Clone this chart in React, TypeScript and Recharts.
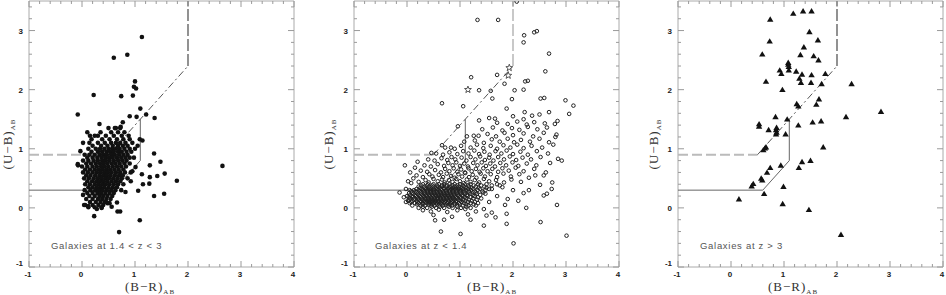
import { ScatterChart, Scatter, XAxis, YAxis } from "recharts";

type Pt = { x: number; y: number };
type Row = [number, number[]];

const xTicks = [-1, -0.8, -0.6, -0.4, -0.2, 0, 0.2, 0.4, 0.6, 0.8, 1, 1.2, 1.4, 1.6, 1.8, 2, 2.2, 2.4, 2.6, 2.8, 3, 3.2, 3.4, 3.6, 3.8, 4];
const yTicks = [-1, -0.8, -0.6, -0.4, -0.2, 0, 0.2, 0.4, 0.6, 0.8, 1, 1.2, 1.4, 1.6, 1.8, 2, 2.2, 2.4, 2.6, 2.8, 3, 3.2, 3.4];

// selection boundaries
const solidCut = [{ x: -1, y: 0.3 }, { x: 0.6, y: 0.3 }, { x: 1.1, y: 0.8 }, { x: 1.1, y: 1.5 }];
const dashHoriz = [{ x: -1, y: 0.9 }, { x: 0.5, y: 0.9 }];
const dashDiag = [{ x: 0.5, y: 0.9 }, { x: 2, y: 2.4 }];
const dashVert = [{ x: 2, y: 2.4 }, { x: 2, y: 3.5 }];

// panel 1: 1.4 < z < 3, dense core by rows [y, xs]
const p1Core: Row[] = [
  [1.35, [0.5, 0.62, 0.72]],
  [1.28, [0.35, 0.55, 0.68, 0.8]],
  [1.22, [0.15, 0.3, 0.45, 0.6, 0.75, 0.88]],
  [1.16, [0.18, 0.38, 0.52, 0.66, 0.78, 0.9]],
  [1.1, [0.14, 0.3, 0.43, 0.55, 0.64, 0.72, 0.82, 0.95]],
  [1.05, [0.2, 0.36, 0.48, 0.58, 0.68, 0.77, 0.86]],
  [1.0, [0.12, 0.26, 0.34, 0.42, 0.5, 0.57, 0.64, 0.71, 0.8, 0.9, 1.0]],
  [0.95, [0.18, 0.3, 0.38, 0.46, 0.53, 0.6, 0.68, 0.75, 0.84, 0.93]],
  [0.9, [0.05, 0.14, 0.24, 0.33, 0.4, 0.47, 0.55, 0.62, 0.7, 0.78, 0.86]],
  [0.85, [0.1, 0.2, 0.29, 0.37, 0.44, 0.51, 0.58, 0.66, 0.74, 0.82, 0.9]],
  [0.8, [0.02, 0.12, 0.22, 0.3, 0.38, 0.45, 0.52, 0.6, 0.68, 0.76, 0.84]],
  [0.75, [0.08, 0.17, 0.26, 0.34, 0.41, 0.48, 0.56, 0.63, 0.71, 0.8, 0.9]],
  [0.7, [0.0, 0.1, 0.2, 0.28, 0.36, 0.43, 0.5, 0.58, 0.66, 0.74, 0.83]],
  [0.65, [0.06, 0.15, 0.24, 0.32, 0.39, 0.46, 0.53, 0.61, 0.69, 0.78]],
  [0.6, [0.02, 0.11, 0.2, 0.28, 0.35, 0.42, 0.49, 0.56, 0.64, 0.72, 0.81, 0.92]],
  [0.55, [0.08, 0.16, 0.25, 0.33, 0.4, 0.47, 0.54, 0.62, 0.7, 0.77]],
  [0.5, [0.04, 0.13, 0.22, 0.3, 0.37, 0.44, 0.51, 0.59, 0.67, 0.75, 0.86]],
  [0.45, [0.1, 0.19, 0.27, 0.34, 0.41, 0.48, 0.56, 0.64, 0.72]],
  [0.4, [0.06, 0.15, 0.24, 0.31, 0.38, 0.45, 0.52, 0.6, 0.68, 0.78]],
  [0.35, [0.12, 0.2, 0.28, 0.35, 0.42, 0.5, 0.58, 0.66]],
  [0.3, [0.05, 0.16, 0.25, 0.32, 0.39, 0.47, 0.55, 0.63, 0.74]],
  [0.25, [0.1, 0.2, 0.29, 0.36, 0.44, 0.52, 0.6]],
  [0.2, [0.14, 0.24, 0.33, 0.4, 0.48, 0.57]],
  [0.15, [0.08, 0.2, 0.3, 0.38, 0.46, 0.54]],
  [0.1, [0.15, 0.26, 0.35, 0.43]],
  [0.05, [0.06, 0.2, 0.31, 0.4]],
  [0.01, [0.12, 0.24, 0.37]],
];
const p1Scatter = [
  [1.13, 2.89], [0.6, 2.54], [0.855, 2.59], [1.0, 2.14], [0.98, 2.05], [1.02, 2.02], [0.96, 1.9], [0.74, 1.89],
  [0.22, 1.91], [-0.08, 1.58], [1.1, 1.68], [1.21, 1.58], [1.03, 1.54], [0.9, 1.55], [1.37, 1.52], [0.33, 1.42],
  [0.64, 1.35], [0.73, 1.37], [0.77, 1.45], [1.09, 1.16], [1.14, 1.14], [-0.03, 0.96], [1.36, 0.92], [1.48, 0.78],
  [1.28, 0.72], [1.01, 0.69], [2.65, 0.71], [1.13, 0.57], [1.28, 0.52], [1.42, 0.54], [1.56, 0.58], [1.79, 0.46],
  [1.15, 0.4], [1.27, 0.41], [1.06, 0.29], [1.36, 0.2], [1.55, 0.24], [0.82, 0.27], [1.09, -0.21], [0.7, -0.41],
  [0.23, -0.14], [0.67, -0.06], [0.72, -0.06], [0.66, 0.09], [0.37, 0.0], [-0.075, 0.72], [-0.08, 0.74],
  [0.02, 0.22], [0.04, 0.05], [0.12, 0.03], [0.48, 0.08], [0.52, 0.08], [0.92, 0.45], [0.95, 0.62], [0.98, 0.85],
  [1.05, 1.05], [0.02, 1.1], [0.1, 1.28], [0.24, 1.22], [0.56, 0.02], [0.28, -0.02],
];

// panel 2: z < 1.4, dense blue cloud by rows [y, xs]
const p2Core: Row[] = [
  [0.0, [0.22, 0.38, 0.55, 0.7, 0.86, 1.02, 1.2]],
  [0.02, [0.3, 0.47, 0.62, 0.79, 0.95, 1.12]],
  [0.04, [0.1, 0.26, 0.34, 0.45, 0.52, 0.6, 0.68, 0.77, 0.85, 0.94, 1.05, 1.16, 1.3]],
  [0.06, [0.19, 0.29, 0.41, 0.48, 0.57, 0.65, 0.73, 0.81, 0.9, 1.0, 1.12, 1.26]],
  [0.08, [0.05, 0.15, 0.22, 0.3, 0.37, 0.43, 0.5, 0.56, 0.63, 0.7, 0.76, 0.83, 0.9, 0.98, 1.08, 1.2, 1.34]],
  [0.1, [0.08, 0.2, 0.27, 0.35, 0.41, 0.47, 0.53, 0.59, 0.65, 0.71, 0.78, 0.84, 0.92, 1.03, 1.15, 1.28]],
  [0.12, [0.02, 0.1, 0.18, 0.25, 0.32, 0.38, 0.44, 0.5, 0.55, 0.61, 0.67, 0.73, 0.79, 0.86, 0.93, 1.0, 1.1, 1.22]],
  [0.14, [0.04, 0.13, 0.22, 0.29, 0.35, 0.42, 0.48, 0.53, 0.58, 0.64, 0.7, 0.77, 0.83, 0.9, 0.97, 1.06, 1.17, 1.32]],
  [0.16, [0.06, 0.14, 0.21, 0.28, 0.34, 0.4, 0.46, 0.52, 0.58, 0.63, 0.69, 0.75, 0.81, 0.87, 0.94, 1.02, 1.12, 1.25, 1.4]],
  [0.18, [0.03, 0.11, 0.19, 0.26, 0.32, 0.39, 0.45, 0.51, 0.57, 0.62, 0.68, 0.74, 0.8, 0.86, 0.92, 1.0, 1.09, 1.2, 1.34]],
  [0.2, [0.0, 0.09, 0.17, 0.24, 0.31, 0.37, 0.43, 0.49, 0.55, 0.6, 0.66, 0.72, 0.78, 0.84, 0.9, 0.97, 1.05, 1.14, 1.27]],
  [0.22, [0.06, 0.15, 0.22, 0.29, 0.36, 0.42, 0.48, 0.54, 0.6, 0.65, 0.71, 0.77, 0.83, 0.89, 0.96, 1.04, 1.13, 1.24, 1.38]],
  [0.24, [0.12, 0.2, 0.27, 0.34, 0.4, 0.46, 0.52, 0.58, 0.64, 0.7, 0.76, 0.82, 0.88, 0.95, 1.02, 1.1, 1.2, 1.32, 1.48]],
  [0.26, [0.1, 0.18, 0.26, 0.33, 0.39, 0.45, 0.51, 0.57, 0.63, 0.69, 0.75, 0.81, 0.87, 0.94, 1.01, 1.09, 1.18, 1.3, 1.44]],
  [0.28, [0.08, 0.16, 0.24, 0.31, 0.38, 0.44, 0.5, 0.56, 0.62, 0.68, 0.74, 0.8, 0.86, 0.93, 1.0, 1.08, 1.17, 1.28, 1.42]],
  [0.3, [0.13, 0.22, 0.3, 0.38, 0.45, 0.52, 0.59, 0.66, 0.73, 0.8, 0.87, 0.94, 1.02, 1.11, 1.21, 1.33, 1.48]],
  [0.32, [0.18, 0.28, 0.36, 0.43, 0.5, 0.57, 0.64, 0.7, 0.77, 0.84, 0.91, 0.98, 1.06, 1.15, 1.25, 1.38, 1.55]],
  [0.34, [0.25, 0.35, 0.45, 0.54, 0.62, 0.7, 0.79, 0.87, 0.95, 1.03, 1.12, 1.22, 1.35, 1.5]],
  [0.36, [0.22, 0.33, 0.42, 0.5, 0.58, 0.66, 0.74, 0.82, 0.9, 0.98, 1.07, 1.17, 1.3, 1.46]],
  [0.38, [0.27, 0.38, 0.48, 0.57, 0.66, 0.76, 0.86, 0.95, 1.05, 1.15, 1.26, 1.4, 1.6]],
  [0.4, [0.3, 0.4, 0.5, 0.6, 0.7, 0.8, 0.9, 1.0, 1.1, 1.2, 1.34, 1.5, 1.7]],
];
const p2Band = [
  [0.22, 0.44], [0.35, 0.47], [0.41, 0.43], [0.5, 0.49], [0.58, 0.45], [0.66, 0.48], [0.71, 0.43], [0.79, 0.47],
  [0.86, 0.44], [0.93, 0.49], [1.0, 0.45], [1.07, 0.42], [1.13, 0.48], [1.2, 0.44], [1.28, 0.47], [1.36, 0.43],
  [1.45, 0.49], [1.55, 0.45], [1.68, 0.47], [1.83, 0.43], [1.97, 0.48], [2.15, 0.44],
  [0.18, 0.55], [0.3, 0.52], [0.42, 0.57], [0.48, 0.53], [0.6, 0.56], [0.68, 0.52], [0.75, 0.58], [0.83, 0.54],
  [0.9, 0.51], [0.97, 0.57], [1.04, 0.53], [1.1, 0.59], [1.17, 0.52], [1.24, 0.56], [1.31, 0.51], [1.39, 0.58],
  [1.47, 0.53], [1.58, 0.57], [1.7, 0.52], [1.82, 0.58], [1.96, 0.53], [2.12, 0.57], [2.3, 0.51],
  [0.26, 0.63], [0.38, 0.61], [0.53, 0.64], [0.64, 0.6], [0.72, 0.66], [0.8, 0.62], [0.88, 0.67], [0.95, 0.61],
  [1.02, 0.65], [1.09, 0.6], [1.16, 0.67], [1.22, 0.62], [1.3, 0.66], [1.37, 0.61], [1.44, 0.67], [1.52, 0.62],
  [1.61, 0.66], [1.72, 0.61], [1.8, 0.67], [1.92, 0.63], [2.05, 0.68], [2.2, 0.62], [2.4, 0.66], [2.62, 0.6],
  [0.33, 0.72], [0.45, 0.7], [0.58, 0.74], [0.7, 0.71], [0.78, 0.76], [0.86, 0.72], [0.93, 0.77], [1.0, 0.71],
  [1.08, 0.75], [1.15, 0.7], [1.25, 0.76], [1.33, 0.72], [1.41, 0.77], [1.49, 0.71], [1.57, 0.75], [1.66, 0.7],
  [1.76, 0.76], [1.87, 0.72], [1.99, 0.77], [2.1, 0.71], [2.26, 0.75], [2.44, 0.72], [2.7, 0.76],
  [0.4, 0.82], [0.52, 0.8], [0.65, 0.84], [0.76, 0.81], [0.84, 0.86], [0.91, 0.82], [1.03, 0.85], [1.12, 0.8],
  [1.2, 0.86], [1.29, 0.82], [1.38, 0.87], [1.47, 0.81], [1.55, 0.85], [1.63, 0.8], [1.72, 0.86], [1.83, 0.82],
  [1.94, 0.87], [2.06, 0.81], [2.18, 0.85], [2.34, 0.82], [2.52, 0.86], [2.85, 0.83],
  [0.55, 0.92], [0.68, 0.9], [0.8, 0.94], [0.95, 0.91], [1.06, 0.96], [1.16, 0.92], [1.27, 0.97], [1.36, 0.91],
  [1.46, 0.95], [1.56, 0.9], [1.67, 0.96], [1.78, 0.92], [1.88, 0.97], [2.0, 0.91], [2.14, 0.95], [2.28, 0.9],
  [2.45, 0.96], [2.66, 0.92],
  [0.72, 1.02], [0.9, 1.0], [1.02, 1.05], [1.2, 1.02], [1.32, 1.07], [1.44, 1.01], [1.58, 1.05], [1.7, 1.0],
  [1.82, 1.06], [1.95, 1.02], [2.08, 1.07], [2.2, 1.01], [2.35, 1.05], [2.55, 1.02], [2.76, 1.07],
  [1.08, 1.12], [1.28, 1.14], [1.45, 1.1], [1.6, 1.16], [1.75, 1.12], [1.9, 1.17], [2.02, 1.11], [2.15, 1.15],
  [2.32, 1.12], [2.5, 1.17], [2.68, 1.11],
  [1.35, 1.22], [1.52, 1.25], [1.68, 1.21], [1.84, 1.27], [2.0, 1.23], [2.2, 1.26], [2.38, 1.21], [2.58, 1.27], [2.82, 1.24],
  [1.42, 1.33], [1.62, 1.36], [1.8, 1.31], [1.98, 1.35], [2.12, 1.32], [2.28, 1.37], [2.46, 1.33], [2.64, 1.36],
  [1.7, 1.44], [1.9, 1.42], [2.08, 1.46], [2.26, 1.41], [2.4, 1.45], [2.6, 1.43], [2.84, 1.47],
  [1.55, 1.52], [2.0, 1.55], [2.2, 1.5], [2.36, 1.56], [2.5, 1.58], [2.22, 1.62],
  [-0.02, 0.32], [0.04, 0.25], [-0.06, 0.18], [0.08, 0.42], [0.12, 0.5], [0.06, 0.6], [0.15, 0.68], [0.2, 0.78], [0.02, 0.45],
  [0.3, -0.04], [0.45, -0.06], [0.6, -0.03], [0.76, -0.07], [0.95, -0.04], [1.1, -0.02], [1.3, -0.06], [1.45, -0.02],
  [1.6, -0.08], [0.5, -0.12], [0.85, -0.15], [1.15, -0.11], [1.5, -0.13], [1.88, -0.1], [0.7, -0.2], [1.2, -0.2],
  [1.55, 0.1], [1.7, 0.2], [1.85, 0.05], [2.1, 0.12], [2.3, 0.3], [1.6, 0.32], [1.75, 0.38], [2.25, 0.0],
];
const p2Scatter = [
  [1.33, 3.18], [1.72, 3.18], [2.07, 3.49], [2.45, 2.99], [2.4, 2.97], [2.2, 2.8], [2.21, 2.92], [2.68, 2.61],
  [2.61, 2.31], [2.23, 2.14], [2.28, 2.15], [1.7, 2.25], [1.21, 2.21], [1.36, 1.99], [1.58, 1.98], [1.84, 2.1],
  [2.03, 1.99], [2.2, 2.0], [1.61, 1.85], [0.66, 1.77], [1.06, 1.72], [1.98, 1.84], [2.52, 1.85], [2.59, 1.86],
  [2.99, 1.82], [3.14, 1.73], [3.06, 1.59], [2.68, 1.62], [1.88, 1.68], [1.66, 1.51], [0.96, 1.38], [1.36, 1.48],
  [1.13, 1.21], [1.26, 1.22], [0.83, 1.02], [0.66, 1.06], [0.46, 0.93], [-0.04, 0.72], [3.01, -0.47], [2.01, -0.6],
  [1.01, -0.44], [0.64, -0.4], [1.45, -0.3], [1.88, -0.27], [2.52, -0.24], [2.83, 0.05], [2.58, 0.21], [2.64, 0.24],
  [2.73, 0.32], [2.51, 0.39], [2.74, 0.43], [2.42, 0.55], [2.58, 0.55], [-0.14, 0.26], [0.53, -0.21], [1.67, -0.16],
  [2.79, 1.42], [2.8, 1.2], [2.92, 0.8], [2.0, 0.3], [2.2, 0.25], [1.9, 0.15], [1.8, 0.35], [0.05, 0.3], [-0.02, 0.1],
];
const p2Stars = [[1.15, 2.0], [1.91, 2.24], [1.93, 2.37]];

// panel 3: z > 3
const p3Points = [
  [0.74, 3.19], [1.175, 3.29], [1.36, 3.33], [1.52, 3.33], [1.48, 2.98], [0.73, 2.82], [1.64, 2.84], [1.375, 2.72],
  [0.59, 2.6], [1.31, 2.59], [1.56, 2.57], [1.65, 2.5], [1.08, 2.46], [1.08, 2.43], [1.09, 2.39], [0.92, 2.33],
  [0.95, 2.27], [1.09, 2.33], [1.23, 2.31], [1.34, 2.26], [1.52, 2.25], [1.29, 2.19], [1.78, 2.27], [0.66, 2.14],
  [1.32, 2.12], [1.51, 2.12], [1.71, 2.1], [2.275, 2.1], [0.97, 2.0], [1.24, 1.76], [1.27, 1.72], [1.66, 1.84],
  [1.61, 1.75], [2.83, 1.63], [2.17, 1.54], [0.84, 1.54], [1.06, 1.5], [0.53, 1.38], [0.53, 1.42], [0.71, 1.32],
  [0.86, 1.36], [0.85, 1.32], [0.86, 1.28], [0.85, 1.25], [1.03, 1.25], [1.27, 1.4], [1.54, 1.45], [1.7, 1.47],
  [1.74, 1.03], [0.61, 0.98], [0.64, 1.01], [0.66, 1.03], [0.94, 0.72], [0.74, 0.68], [1.28, 0.68], [1.34, 0.78],
  [1.5, 0.8], [0.68, 0.6], [0.57, 0.5], [0.59, 0.47], [0.42, 0.41], [0.39, 0.37], [0.99, 0.36], [0.625, 0.24],
  [0.15, 0.15], [0.975, 0.07], [1.47, -0.03], [2.075, -0.45],
];

const rowsToPts = (rows: Row[]): Pt[] => rows.flatMap(([y, xs]) => xs.map((x) => ({ x, y })));
const pairsToPts = (pairs: number[][]): Pt[] => pairs.map(([x, y]) => ({ x, y }));

const isMajor = (v: number) => Math.abs(v - Math.round(v)) < 1e-6;
const tickFont = { fontSize: 8, fontFamily: "Liberation Sans, Arial, sans-serif", fontWeight: 700, fill: "#222" };
const TICK = "#9a9a9a";

const BottomTick = (p: any) => {
  const m = isMajor(p.payload.value);
  return (
    <g>
      <line x1={p.x} x2={p.x} y1={p.y} y2={p.y - (m ? 6 : 3)} stroke={TICK} />
      {m && <text x={p.x - 1} y={p.y + 10} textAnchor="middle" {...tickFont}>{Math.round(p.payload.value)}</text>}
    </g>
  );
};
const TopTick = (p: any) => {
  const m = isMajor(p.payload.value);
  return <line x1={p.x} x2={p.x} y1={p.y} y2={p.y + (m ? 6 : 3)} stroke={TICK} />;
};
const LeftTick = (p: any) => {
  const m = isMajor(p.payload.value);
  const v = Math.round(p.payload.value);
  return (
    <g>
      <line x1={p.x} x2={p.x + (m ? 6 : 3)} y1={p.y} y2={p.y} stroke={TICK} />
      {m && <text x={p.x - 6} y={p.y + (v === -1 ? -1 : 3)} textAnchor="end" {...tickFont}>{v}</text>}
    </g>
  );
};
const RightTick = (p: any) => {
  const m = isMajor(p.payload.value);
  return <line x1={p.x} x2={p.x - (m ? 6 : 3)} y1={p.y} y2={p.y} stroke={TICK} />;
};

const noShape = () => <g />;
const Dot = (p: any) => <circle cx={p.cx} cy={p.cy} r={2.3} fill="#111" />;
const Ring = (p: any) => <circle cx={p.cx} cy={p.cy} r={1.8} fill="none" stroke="#222" strokeWidth={1} />;
const Tri = (p: any) => (
  <path d={`M${p.cx},${p.cy - 3} L${p.cx + 3.2},${p.cy + 2.4} L${p.cx - 3.2},${p.cy + 2.4} Z`} fill="#111" />
);
const Star = (p: any) => {
  const pts: string[] = [];
  for (let i = 0; i < 10; i++) {
    const r = i % 2 === 0 ? 3.6 : 1.5;
    const a = -Math.PI / 2 + (i * Math.PI) / 5;
    pts.push(`${p.cx + r * Math.cos(a)},${p.cy + r * Math.sin(a)}`);
  }
  return <polygon points={pts.join(" ")} fill="none" stroke="#444" strokeWidth={0.9} />;
};

type Series = { data: Pt[]; shape: (p: any) => any };

const Panel = ({ left, series, vertColor }: { left: number; series: Series[]; vertColor: string }) => (
  <div style={{ position: "absolute", left, top: 0 }}>
    <ScatterChart width={325} height={295} margin={{ top: 0, right: 30, bottom: 0, left: 0 }}>
      <XAxis type="number" dataKey="x" domain={[-1, 4]} ticks={xTicks} interval={0} allowDataOverflow
        height={28} tickSize={0} tickMargin={0} tickLine={false} axisLine={{ stroke: "#aaa" }} tick={BottomTick} />
      <XAxis xAxisId="top" orientation="top" type="number" dataKey="x" domain={[-1, 4]} ticks={xTicks} interval={0}
        allowDataOverflow height={1} tickSize={0} tickMargin={0} tickLine={false} axisLine={{ stroke: "#aaa" }} tick={TopTick} />
      <YAxis type="number" dataKey="y" domain={[-1, 3.5]} ticks={yTicks} interval={0} allowDataOverflow
        width={29} tickSize={0} tickMargin={0} tickLine={false} axisLine={{ stroke: "#aaa" }} tick={LeftTick} />
      <YAxis yAxisId="right" orientation="right" type="number" dataKey="y" domain={[-1, 3.5]} ticks={yTicks} interval={0}
        allowDataOverflow width={1} tickSize={0} tickMargin={0} tickLine={false} axisLine={{ stroke: "#aaa" }} tick={RightTick} />
      <Scatter data={solidCut} shape={noShape} line={{ stroke: "#666", strokeWidth: 1 }} lineType="joint" isAnimationActive={false} />
      <Scatter data={dashHoriz} shape={noShape} line={{ stroke: "#bbb", strokeWidth: 2, strokeDasharray: "10 4" }} lineType="joint" isAnimationActive={false} />
      <Scatter data={dashDiag} shape={noShape} line={{ stroke: "#555", strokeWidth: 1, strokeDasharray: "7 3 2 3" }} lineType="joint" isAnimationActive={false} />
      <Scatter data={dashVert} shape={noShape} line={{ stroke: vertColor, strokeWidth: 1.6, strokeDasharray: "12 3" }} lineType="joint" isAnimationActive={false} />
      {series.map((s, i) => (
        <Scatter key={i} data={s.data} shape={s.shape} isAnimationActive={false} />
      ))}
    </ScatterChart>
  </div>
);

const serif = "Liberation Serif, DejaVu Serif, serif";
const labelFont = "Liberation Sans, Arial, sans-serif";

const XTitle = ({ x }: { x: number }) => (
  <text x={x} y={291} fontFamily={serif} fontSize={13} fill="#333" letterSpacing={1}>
    (B−R)<tspan fontSize={7} dy={3}>AB</tspan>
  </text>
);
const YTitle = ({ x }: { x: number }) => (
  <text transform={`translate(${x},144) rotate(-90)`} textAnchor="middle" fontFamily={serif} fontSize={13} fill="#333" letterSpacing={1}>
    (U−B)<tspan fontSize={7} dy={3}>AB</tspan>
  </text>
);
const Note = ({ x, text }: { x: number; text: string }) => (
  <text x={x} y={249} fontFamily={labelFont} fontSize={9.5} fill="#555" letterSpacing={0.7}>{text}</text>
);

export default function App() {
  return (
    <div style={{ position: "absolute", left: 0, top: 0, width: 946, height: 295, overflow: "hidden", background: "#fff" }}>
      <Panel left={0} vertColor="#777" series={[{ data: [...rowsToPts(p1Core), ...pairsToPts(p1Scatter)], shape: Dot }]} />
      <Panel left={325} vertColor="#bbb" series={[
        { data: [...rowsToPts(p2Core), ...pairsToPts(p2Band), ...pairsToPts(p2Scatter)], shape: Ring },
        { data: pairsToPts(p2Stars), shape: Star },
      ]} />
      <Panel left={649} vertColor="#777" series={[{ data: pairsToPts(p3Points), shape: Tri }]} />
      <svg width={946} height={295} style={{ position: "absolute", left: 0, top: 0, pointerEvents: "none" }}>
        <XTitle x={125} />
        <XTitle x={467} />
        <XTitle x={768} />
        <YTitle x={12} />
        <YTitle x={333} />
        <YTitle x={658} />
        <Note x={51} text="Galaxies at 1.4 < z < 3" />
        <Note x={375} text="Galaxies at z < 1.4" />
        <Note x={700} text="Galaxies at z > 3" />
      </svg>
    </div>
  );
}
